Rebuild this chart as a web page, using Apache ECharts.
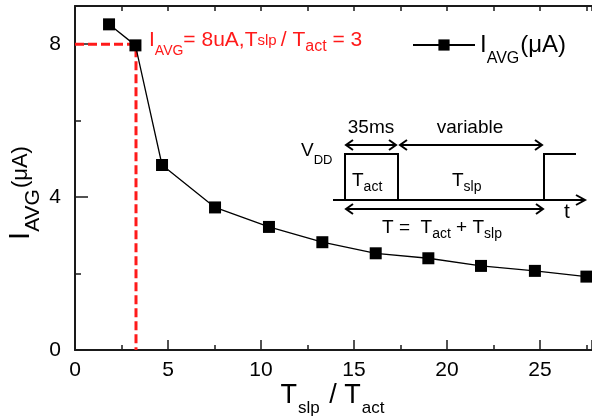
<!DOCTYPE html>
<html>
<head>
<meta charset="utf-8">
<script src="https://cdn.jsdelivr.net/npm/echarts@6/dist/echarts.min.js"></script>
<style>
  html, body { margin: 0; padding: 0; background: #fff; }
  #chart { width: 592px; height: 419px; }
</style>
</head>
<body>
<div id="chart"></div>
<script>
// T_slp / T_act ratio and measured average current (uA)
var ratio = [1.83, 3.25, 4.68, 7.53, 10.43, 13.3, 16.17, 19.0, 21.83, 24.73, 27.5];
var iavg = [8.52, 7.97, 4.84, 3.73, 3.22, 2.82, 2.53, 2.40, 2.20, 2.07, 1.92];
// red guide through the design point (T_slp/T_act = 3.28, I = 8uA)
var guideX = [0, 3.28, 3.28];
var guideY = [8, 8, 0];
var xTicks = [0, 5, 10, 15, 20, 25];
var yTicks = [0, 4, 8];

var font = "Liberation Sans, Arial, sans-serif";
var axisColor = "#1a1a1a";

var chart = echarts.init(document.getElementById("chart"));

var mainData = ratio.map(function (v, i) { return [v, iavg[i]]; });
var guideData = guideX.map(function (v, i) { return [v, guideY[i]]; });

var option = {
  animation: false,
  grid: { left: 75, top: 6, right: 0, bottom: 69, outerBoundsMode: "none", containLabel: false },
  legend: {
    left: 407,
    top: 28,
    itemWidth: 62,
    itemHeight: 14,
    itemGap: 4,
    data: ["iavg"],
    formatter: function () {
      return "{a|I}{s|AVG}{a|(μA)}";
    },
    textStyle: {
      rich: {
        a: { fontSize: 24, fontFamily: font, color: "#000", lineHeight: 26 },
        s: { fontSize: 16, fontFamily: font, color: "#000", verticalAlign: "bottom", lineHeight: 16, padding: [0, 1, -9, 0] }
      }
    }
  },
  xAxis: [
    {
      type: "value", min: 0, max: 27.8, interval: 5, position: "bottom",
      name: "{a|T}{s|slp}{a| / T}{s|act}",
      nameLocation: "middle", nameGap: 31, nameMoveOverlap: false,
      nameTextStyle: {
        rich: {
          a: { fontSize: 27, fontFamily: font, color: "#000", lineHeight: 30 },
          s: { fontSize: 17, fontFamily: font, color: "#000", verticalAlign: "bottom", lineHeight: 17, padding: [0, 2, -6, 1] }
        }
      },
      axisLine: { show: true, lineStyle: { color: axisColor, width: 2 } },
      axisTick: { inside: true, length: 10, lineStyle: { color: axisColor, width: 1.5 } },
      axisLabel: {
        fontSize: 21, fontFamily: font, color: "#000", margin: 10,
        formatter: function (v) { return xTicks.indexOf(v) >= 0 ? String(v) : ""; }
      },
      splitLine: { show: false }
    },
    {
      type: "value", min: 0, max: 27.8, interval: 2.5, position: "bottom",
      axisLine: { show: false },
      axisTick: { inside: true, length: 5, lineStyle: { color: axisColor, width: 1.5 } },
      axisLabel: { show: false },
      splitLine: { show: false }
    },
    {
      type: "value", min: 0, max: 27.8, interval: 2.5, position: "top",
      axisLine: { show: true, lineStyle: { color: axisColor, width: 2 } },
      axisTick: { inside: true, length: 5, lineStyle: { color: axisColor, width: 1.5 } },
      axisLabel: { show: false },
      splitLine: { show: false }
    }
  ],
  yAxis: [
    {
      type: "value", min: 0, max: 9, interval: 4, position: "left",
      name: "{a|I}{s|AVG}{b|(μA)}",
      nameLocation: "middle", nameGap: 38, nameRotate: 90, nameMoveOverlap: false,
      nameTextStyle: {
        padding: [0, 30, 0, 0],
        rich: {
          a: { fontSize: 29, fontFamily: font, color: "#000", lineHeight: 32 },
          s: { fontSize: 21, fontFamily: font, color: "#000", verticalAlign: "bottom", lineHeight: 21, padding: [0, 1, -7, 0] },
          b: { fontSize: 22, fontFamily: font, color: "#000", lineHeight: 32 }
        }
      },
      axisLine: { show: true, lineStyle: { color: axisColor, width: 2 } },
      axisTick: { inside: true, length: 13, lineStyle: { color: axisColor, width: 1.5 } },
      axisLabel: {
        fontSize: 21, fontFamily: font, color: "#000", margin: 14,
        formatter: function (v) { return yTicks.indexOf(v) >= 0 ? String(v) : ""; }
      },
      splitLine: { show: false }
    },
    {
      type: "value", min: 0, max: 9, interval: 2, position: "left",
      axisLine: { show: false },
      axisTick: { inside: true, length: 6, lineStyle: { color: axisColor, width: 1.5 } },
      axisLabel: { show: false },
      splitLine: { show: false }
    }
  ],
  series: [
    {
      name: "guide",
      type: "line",
      data: guideData,
      symbol: "none",
      silent: true,
      z: 1,
      lineStyle: { color: "#ff1a1a", width: 3, type: [9, 4] }
    },
    {
      name: "iavg",
      type: "line",
      data: mainData,
      symbol: "rect",
      symbolSize: 12,
      z: 3,
      itemStyle: { color: "#000" },
      lineStyle: { color: "#000", width: 1.3 }
    }
  ],
  graphic: [
    // design point annotation
    {
      type: "text", left: 149, top: 30,
      style: {
        text: "{a|I}{s|AVG}{a|= 8uA,T}{t|slp }{a|/ T}{u|act}{a| = 3}",
        rich: {
          a: { fontSize: 21, fontFamily: font, fill: "#ff1a1a", lineHeight: 24 },
          s: { fontSize: 14, fontFamily: font, fill: "#ff1a1a", verticalAlign: "bottom", lineHeight: 14, padding: [0, 0, -6, 0] },
          t: { fontSize: 15, fontFamily: font, fill: "#ff1a1a", lineHeight: 24 },
          u: { fontSize: 16, fontFamily: font, fill: "#ff1a1a", verticalAlign: "bottom", lineHeight: 16, padding: [0, 0, -2, 0] }
        }
      }
    },
    // inset timing diagram
    {
      type: "group",
      children: [
        { type: "polyline", shape: { points: [[333, 200], [345, 200], [345, 154], [398, 154], [398, 200], [544, 200], [544, 154], [576, 154]] },
          style: { stroke: "#000", lineWidth: 2, fill: null } },
        { type: "polyline", shape: { points: [[333, 200], [584, 200]] }, style: { stroke: "#000", lineWidth: 2 } },
        { type: "polyline", shape: { points: [[576, 195], [585, 200], [576, 205]] }, style: { stroke: "#000", lineWidth: 2, fill: null } },
        // 35ms arrow
        { type: "polyline", shape: { points: [[346, 145], [396, 145]] }, style: { stroke: "#000", lineWidth: 2 } },
        { type: "polyline", shape: { points: [[353, 140], [346, 145], [353, 150]] }, style: { stroke: "#000", lineWidth: 2, fill: null } },
        { type: "polyline", shape: { points: [[389, 140], [396, 145], [389, 150]] }, style: { stroke: "#000", lineWidth: 2, fill: null } },
        // variable arrow
        { type: "polyline", shape: { points: [[400, 145], [542, 145]] }, style: { stroke: "#000", lineWidth: 2 } },
        { type: "polyline", shape: { points: [[407, 140], [400, 145], [407, 150]] }, style: { stroke: "#000", lineWidth: 2, fill: null } },
        { type: "polyline", shape: { points: [[535, 140], [542, 145], [535, 150]] }, style: { stroke: "#000", lineWidth: 2, fill: null } },
        // period arrow
        { type: "polyline", shape: { points: [[346, 209], [543, 209]] }, style: { stroke: "#000", lineWidth: 2 } },
        { type: "polyline", shape: { points: [[353, 204], [346, 209], [353, 214]] }, style: { stroke: "#000", lineWidth: 2, fill: null } },
        { type: "polyline", shape: { points: [[536, 204], [543, 209], [536, 214]] }, style: { stroke: "#000", lineWidth: 2, fill: null } },
        { type: "text", x: 371, y: 128, style: { text: "35ms", fontSize: 19, fontFamily: font, fill: "#000", align: "center", verticalAlign: "middle" } },
        { type: "text", x: 470, y: 128, style: { text: "variable", fontSize: 19, fontFamily: font, fill: "#000", align: "center", verticalAlign: "middle" } },
        { type: "text", x: 301, y: 140, style: { text: "{a|V}{s|DD}", rich: {
            a: { fontSize: 19, fontFamily: font, fill: "#000", lineHeight: 22 },
            s: { fontSize: 13, fontFamily: font, fill: "#000", verticalAlign: "bottom", lineHeight: 13, padding: [0, 0, -5, 0] } } } },
        { type: "text", x: 352, y: 170, style: { text: "{a|T}{s|act}", rich: {
            a: { fontSize: 19, fontFamily: font, fill: "#000", lineHeight: 22 },
            s: { fontSize: 14, fontFamily: font, fill: "#000", verticalAlign: "bottom", lineHeight: 14, padding: [0, 0, -2, 0] } } } },
        { type: "text", x: 452, y: 170, style: { text: "{a|T}{s|slp}", rich: {
            a: { fontSize: 19, fontFamily: font, fill: "#000", lineHeight: 22 },
            s: { fontSize: 14, fontFamily: font, fill: "#000", verticalAlign: "bottom", lineHeight: 14, padding: [0, 0, -2, 0] } } } },
        { type: "text", x: 564, y: 202, style: { text: "t", fontSize: 21, fontFamily: font, fill: "#000" } },
        { type: "text", x: 382, y: 217, style: { text: "{a|T =  T}{s|act}{a| + T}{s|slp}", rich: {
            a: { fontSize: 19, fontFamily: font, fill: "#000", lineHeight: 22 },
            s: { fontSize: 14, fontFamily: font, fill: "#000", verticalAlign: "bottom", lineHeight: 14, padding: [0, 0, -2, 0] } } } }
      ]
    }
  ]
};

chart.setOption(option);
window.addEventListener("resize", function () {
  chart.resize();
});
</script>
</body>
</html>
